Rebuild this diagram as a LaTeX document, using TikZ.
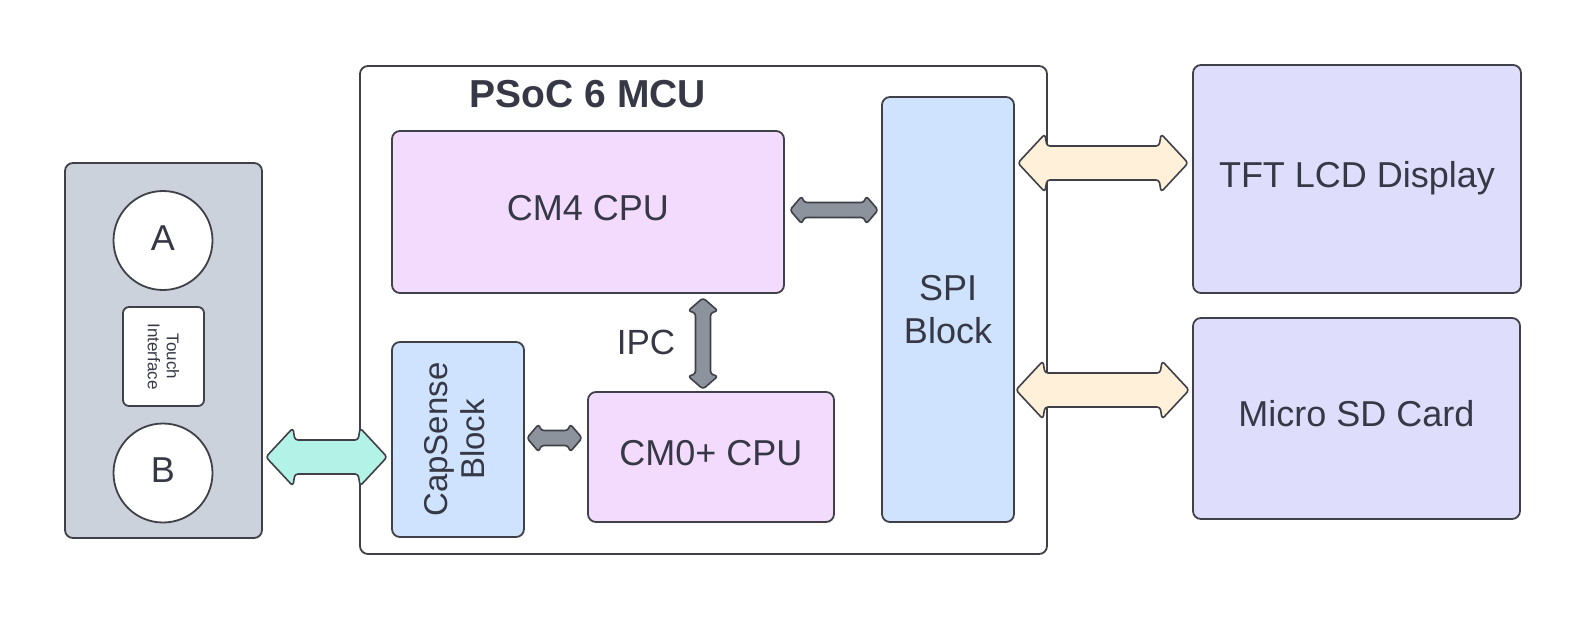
\documentclass[tikz,border=0pt]{standalone}
\usepackage{fontspec}
\setmainfont{Liberation Sans}
\usetikzlibrary{calc}
\definecolor{edge}{HTML}{404049}
\definecolor{txt}{HTML}{363846}
\definecolor{panelfill}{HTML}{CBD2DC}
\definecolor{purplefill}{HTML}{F2DBFC}
\definecolor{bluefill}{HTML}{CFE3FE}
\definecolor{lavfill}{HTML}{DEDEFC}
\definecolor{tealfill}{HTML}{B3F2E7}
\definecolor{creamfill}{HTML}{FEF0D9}
\definecolor{grayarr}{HTML}{8D939C}
\newcommand\hdarrow[6]{%
\draw[#1] let \p1=#2, \p2=#3 in
 (\x1,\y1) -- (\x1+#6pt,\y1+#5pt) -- (\x1+#6pt+2pt,\y1+#4pt) -- (\x2-#6pt-2pt,\y1+#4pt) -- (\x2-#6pt,\y1+#5pt) -- (\x2,\y1) -- (\x2-#6pt,\y1-#5pt) -- (\x2-#6pt-2pt,\y1-#4pt) -- (\x1+#6pt+2pt,\y1-#4pt) -- (\x1+#6pt,\y1-#5pt) -- cycle;}
\newcommand\vdarrow[6]{%
\draw[#1] let \p1=#2, \p2=#3 in
 (\x1,\y1) -- (\x1+#5pt,\y1-#6pt) -- (\x1+#4pt,\y1-#6pt-2pt) -- (\x1+#4pt,\y2+#6pt+2pt) -- (\x1+#5pt,\y2+#6pt) -- (\x1,\y2) -- (\x1-#5pt,\y2+#6pt) -- (\x1-#4pt,\y2+#6pt+2pt) -- (\x1-#4pt,\y1-#6pt-2pt) -- (\x1-#5pt,\y1-#6pt) -- cycle;}
\begin{document}
\begin{tikzpicture}[x=1pt,y=-1pt,
  box/.style={draw=edge, line width=1.8pt, rounded corners=8pt, inner sep=0pt, text=txt, font=\fontsize{36}{43}\selectfont},
  onel/.style={text height=26pt, text depth=10pt},
  btn/.style={draw=edge, line width=1.8pt, circle, fill=white, inner sep=0pt, minimum size=99pt, text=txt, font=\fontsize{36}{40}\selectfont, text height=26pt, text depth=7pt},
  arr/.style={draw=edge, line width=1.6pt, rounded corners=3pt, line join=round},
  lbl/.style={text=txt, inner sep=0pt}]
\useasboundingbox[fill=white] (0,0) rectangle (1586,621);
% left panel
\node[box, fill=panelfill, minimum width=197pt, minimum height=375pt] (panel) at (163.5,350.5) {};
\node[btn] (btnA) at (163,240.5) {A};
\node[btn] (btnB) at (163,473) {B};
\node[box, fill=white, minimum width=81pt, minimum height=99pt, rounded corners=6pt] (touch) at (163.5,356.5) {};
\node[lbl, rotate=-90, align=center, font=\fontsize{17}{19}\selectfont] (touchtxt) at (touch.center) {Touch\\Interface};
% MCU
\node[box, fill=white, minimum width=687pt, minimum height=488pt] (mcu) at (703.5,310) {};
\node[lbl, font=\fontsize{39}{44}\selectfont\bfseries] (title) at (588,94) {PSoC 6 MCU};
\node[box, onel, fill=purplefill, minimum width=392pt, minimum height=162pt] (cm4) at (588,212) {CM4 CPU};
\node[box, onel, fill=purplefill, minimum width=246pt, minimum height=130pt] (cm0) at (711,457) {CM0+ CPU};
\node[box, fill=bluefill, minimum width=132pt, minimum height=195pt] (capsense) at (458,439.5) {};
\node[lbl, rotate=90, align=center, font=\fontsize{33}{37}\selectfont] (captxt) at ($(capsense.center)+(-3,0)$) {CapSense\\Block};
\node[box, fill=bluefill, minimum width=132pt, minimum height=425pt, align=center] (spi) at (948,309.5) {SPI\\Block};
\node[lbl, font=\fontsize{35}{40}\selectfont] (ipc) at (646,342) {IPC};
% peripherals
\node[box, onel, fill=lavfill, minimum width=328pt, minimum height=228pt] (tft) at (1357,179) {TFT LCD Display};
\node[box, onel, fill=lavfill, minimum width=327pt, minimum height=201pt] (sd) at (1356.5,418.5) {Micro SD Card};
% connectors
\hdarrow{arr, fill=grayarr}{($(cm4.east)+(5,-2)$)}{($(spi.west)+(-3,0)$)}{7.5}{14}{12}
\vdarrow{arr, fill=grayarr}{($(cm4.south-|cm0.north)+(-8,4)$)}{($(cm0.north)+(-8,-2)$)}{7.5}{15}{13}
\hdarrow{arr, fill=grayarr}{($(capsense.east)+(2,-1.5)$)}{($(cm0.west)+(-5,0)$)}{7.5}{14}{12}
\hdarrow{arr, fill=tealfill}{($(panel.east|-capsense.east)+(3,17.5)$)}{($(capsense.west)+(-4,0)$)}{17}{29}{27}
\hdarrow{arr, fill=creamfill}{($(spi.east|-0,163)+(3,0)$)}{($(tft.west)+(-4,0)$)}{17}{29}{27}
\hdarrow{arr, fill=creamfill}{($(spi.east|-0,390)+(1,0)$)}{($(sd.west)+(-3,0)$)}{17}{29}{27}
\end{tikzpicture}
\end{document}
